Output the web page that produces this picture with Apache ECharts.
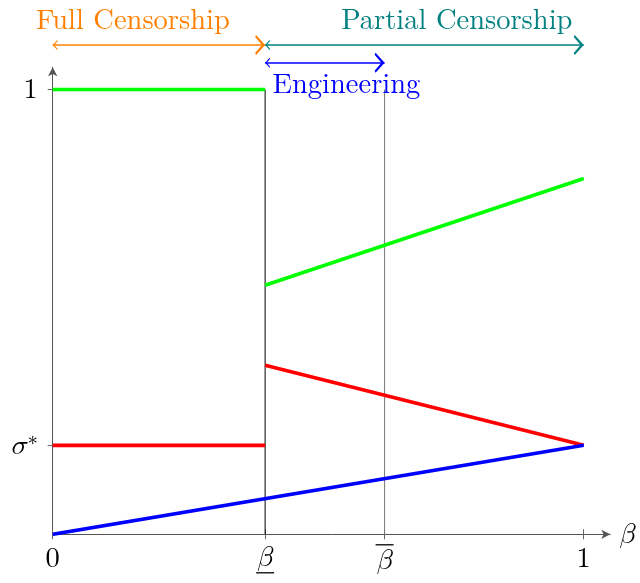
<!DOCTYPE html>
<html>
<head>
<meta charset="utf-8">
<script src="https://cdn.jsdelivr.net/npm/echarts@6/dist/echarts.min.js"></script>
<style>
  html, body { margin: 0; padding: 0; background: #fff; }
  #chart { width: 640px; height: 583px; }
</style>
</head>
<body>
<div id="chart"></div>
<script>
// Regime thresholds and reference level
const betaLow = 0.4;
const betaHigh = 0.625;
const sigmaStar = 0.2;

// Curve segments: x positions and y values
const greenLeftX = [0, betaLow];
const greenLeftY = [1, 1];
const greenRightX = [betaLow, 1];
const greenRightY = [0.56, 0.8];
const redLeftX = [0, betaLow];
const redLeftY = [sigmaStar, sigmaStar];
const redRightX = [betaLow, 1];
const redRightY = [0.38, sigmaStar];
const blueX = [0, 1];
const blueY = [0, sigmaStar];

// Tick values and labels (math italic beta and sigma)
const xTickValues = [0, betaLow, betaHigh, 1];
const xTickLabels = ['{n|0}', '{i|𝛽}\n{bar| }', '{bar| }\n{i|𝛽}', '{n|1}'];
const yTickValues = [sigmaStar, 1];
const yTickLabels = ['{i|𝜎}{s|∗}', '{n|1}'];

// Regime bands above the plot
const bandNames = ['Full Censorship', 'Partial Censorship', 'Engineering'];
const bandColors = ['rgb(255,128,0)', 'rgb(0,128,128)', 'rgb(0,0,255)'];
const bandStart = [0, betaLow, betaLow];
const bandEnd = [betaLow, 1, betaHigh];
const bandLevel = [1.1, 1.1, 1.06];
const bandLabelX = [0.151, 0.761, 0.414];
const bandLabelY = [1.155, 1.155, 1.012];
const bandLabelAlign = ['center', 'center', 'left'];

const FONT = '"Latin Modern Roman", "Liberation Serif", serif';
const MATH_FONT = '"Latin Modern Math", "Latin Modern Roman", "DejaVu Serif", serif';
const FONT_SIZE = 28.5;
const richText = {
  n: { fontFamily: FONT, fontSize: FONT_SIZE, color: '#000', lineHeight: 30 },
  i: { fontFamily: MATH_FONT, fontSize: FONT_SIZE, color: '#000', lineHeight: 28 },
  s: { fontFamily: MATH_FONT, fontSize: 20, color: '#000', verticalAlign: 'top', padding: [0, 0, 12, 0] },
  bar: { width: 18, height: 1.3, lineHeight: 3, backgroundColor: '#000', fontSize: 1 }
};

function pairs(xs, ys) { return xs.map((x, k) => [x, ys[k]]); }
function labelFor(values, labels) {
  return function (v) {
    for (let k = 0; k < values.length; k++) {
      if (Math.abs(values[k] - v) < 1e-6) return labels[k];
    }
    return '';
  };
}

// Open arrow head; the tiny extra sub-path above the tip centres the tip on the end point
const chevron = 'path://M5,-10 L5.01,-10 L5,-9.99 Z M5,0 L10,9 L9,10 L5,3.2 L1,10 L0,9 Z';

function seg(xs, ys, color, width, z) {
  return {
    type: 'line', data: pairs(xs, ys), showSymbol: false, symbol: 'none',
    lineStyle: { color: color, width: width }, z: z, silent: true, animation: false
  };
}

const series = [
  seg([betaLow, betaLow], [0, 1], '#000', 1, 1),
  seg([betaHigh, betaHigh], [0, 1], '#777', 1, 1),
  seg(greenLeftX, greenLeftY, '#00ff00', 3.6, 3),
  seg(greenRightX, greenRightY, '#00ff00', 3.6, 3),
  seg(redLeftX, redLeftY, '#ff0000', 3.6, 3),
  seg(redRightX, redRightY, '#ff0000', 3.6, 3),
  seg(blueX, blueY, '#0000ff', 3.6, 4)
];

// Double-headed band arrows
bandNames.forEach((name, k) => {
  series.push({
    type: 'lines', coordinateSystem: 'cartesian2d', clip: false, silent: true, animation: false,
    symbol: [chevron, chevron], symbolSize: [10, 20],
    lineStyle: { color: bandColors[k], width: 1.7, opacity: 1 },
    data: [{ coords: [[bandStart[k], bandLevel[k]], [bandEnd[k], bandLevel[k]]] }],
    z: 5
  });
});

const chart = echarts.init(document.getElementById('chart'), null, { renderer: 'canvas' });
chart.setOption({
  backgroundColor: '#fff',
  animation: false,
  grid: { left: 52.7, right: 29.7, top: 67.3, bottom: 48.7, containLabel: false },
  xAxis: [{
    type: 'value', min: 0, max: 1.05,
    name: '{i|𝛽}', nameLocation: 'end', nameGap: 9,
    nameTextStyle: { verticalAlign: 'middle', rich: richText },
    axisLine: { show: true, symbol: ['none', 'arrow'], symbolSize: [7, 9], lineStyle: { color: '#555', width: 1 } },
    axisTick: { show: true, customValues: xTickValues, length: 5, lineStyle: { color: '#666' } },
    axisLabel: { customValues: xTickValues, formatter: labelFor(xTickValues, xTickLabels), margin: 9, rich: richText },
    splitLine: { show: false }
  }, {
    type: 'value', min: 0, max: 1.05, position: 'bottom',
    axisLine: { show: false },
    axisTick: { show: true, inside: true, customValues: xTickValues, length: 5, lineStyle: { color: '#666' } },
    axisLabel: { show: false },
    splitLine: { show: false }
  }],
  yAxis: {
    type: 'value', min: 0, max: 1.05,
    axisLine: { show: true, symbol: ['none', 'arrow'], symbolSize: [7, 9], lineStyle: { color: '#555', width: 1 } },
    axisTick: { show: true, customValues: yTickValues, length: 5, lineStyle: { color: '#666' } },
    axisLabel: { customValues: yTickValues, formatter: labelFor(yTickValues, yTickLabels), margin: 15, rich: richText },
    splitLine: { show: false }
  },
  series: series
});

// Band captions placed at data positions through the grid's scales
chart.setOption({
  graphic: bandNames.map((name, k) => {
    const p = chart.convertToPixel({ gridIndex: 0 }, [bandLabelX[k], bandLabelY[k]]);
    return {
      type: 'text', x: p[0], y: p[1], silent: true, z: 10,
      style: {
        text: name, fontFamily: FONT, fontSize: FONT_SIZE, fill: bandColors[k],
        align: bandLabelAlign[k], verticalAlign: 'middle'
      }
    };
  })
});
</script>
</body>
</html>
